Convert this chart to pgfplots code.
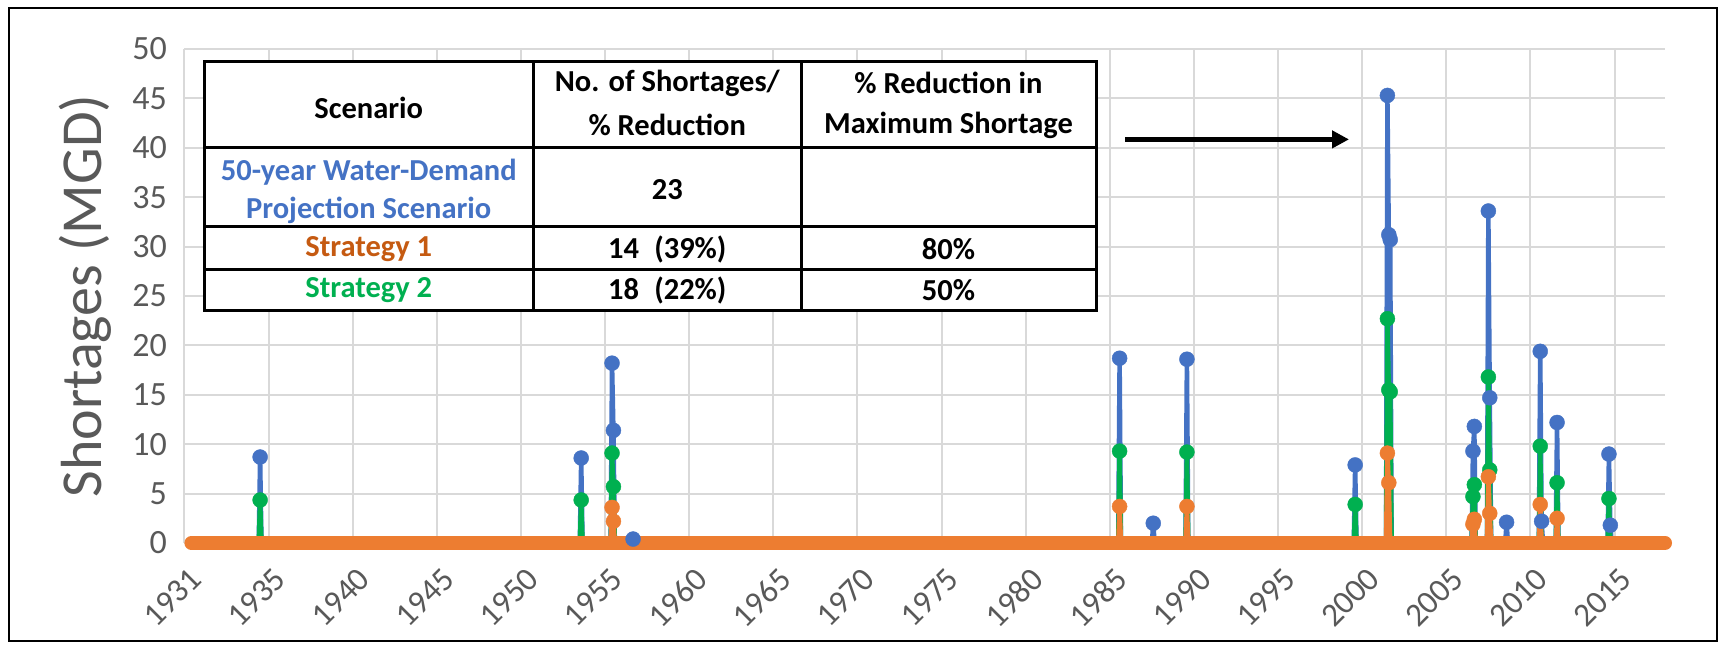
\documentclass[border=0pt]{standalone}
\usepackage{pgfplots}
\usepackage{pgfplotstable}
\pgfplotsset{compat=1.18}
\usetikzlibrary{arrows.meta}
\usepackage{fontspec}
\setmainfont{Carlito}

\definecolor{sblue}{HTML}{4472C4}
\definecolor{sorange}{HTML}{ED7D31}
\definecolor{sgreen}{HTML}{00B050}
\definecolor{torange}{HTML}{C55A11}
\definecolor{gridgray}{HTML}{D9D9D9}
\definecolor{labelgray}{HTML}{595959}

% month index from the start of the record, shortage in MGD
\pgfplotstableread{
x y
5 0
53 0
54 8.7
55 0
282 0
283 8.6
284 0
304 0
305 18.2
306 11.4
307 0
319 0
320 0.4
321 0
666 0
667 18.7
668 0
690 0
691 2.0
692 0
714 0
715 18.6
716 0
834 0
835 7.9
836 0
857 0
858 45.3
859 31.2
860 30.7
861 0
918 0
919 9.3
920 11.8
921 0
929 0
930 33.6
931 14.7
932 0
942 0
943 2.1
944 0
966 0
967 19.4
968 2.2
969 0
978 0
979 12.2
980 0
1015 0
1016 9.0
1017 1.8
1018 0
1056 0
}\baseline

\pgfplotstableread{
x y
5 0
53 0
54 4.35
55 0
282 0
283 4.35
284 0
304 0
305 9.1
306 5.7
307 0
666 0
667 9.3
668 0
714 0
715 9.2
716 0
834 0
835 3.9
836 0
857 0
858 22.7
859 15.5
860 15.3
861 0
918 0
919 4.7
920 5.9
921 0
929 0
930 16.8
931 7.4
932 0
966 0
967 9.8
968 0
978 0
979 6.1
980 0
1015 0
1016 4.5
1017 0
1056 0
}\stratB

\pgfplotstableread{
x y
5 0
304 0
305 3.6
306 2.2
307 0
666 0
667 3.7
668 0
714 0
715 3.7
716 0
857 0
858 9.1
859 6.1
860 0
918 0
919 1.9
920 2.4
921 0
929 0
930 6.7
931 3.0
932 0
966 0
967 3.9
968 0
978 0
979 2.5
980 0
1056 0
}\stratA

\begin{document}
\begin{tikzpicture}
\begin{scope}[x=1bp,y=1bp]
\useasboundingbox (0,0) rectangle (1721,649);
\fill[white] (0,0) rectangle (1721,649);
\end{scope}

\begin{axis}[
  at={(184.4bp,106bp)}, anchor=south west,
  scale only axis, width=1480.6bp, height=494bp,
  xmin=0, xmax=1056, ymin=0, ymax=50,
  xtick={0,60,...,1020},
  xticklabels={1931,1935,1940,1945,1950,1955,1960,1965,1970,1975,1980,1985,1990,1995,2000,2005,2010,2015},
  ytick={0,5,...,50},
  grid=major,
  major grid style={draw=gridgray, line width=2bp},
  axis line style={draw=none},
  major tick length=0pt,
  tick label style={font=\fontsize{34bp}{40bp}\selectfont, text=labelgray},
  /pgf/number format/assume math mode=true,
  xticklabel style={font=\fontsize{33bp}{38bp}\selectfont, yshift=-20bp, xshift=4bp, rotate=45, anchor=north east, inner sep=2bp},
  yticklabel style={xshift=-14bp},
  every axis y label/.style={at={(axis description cs:-0.067,0.5)}, rotate=90, anchor=center},
  ylabel={Shortages (MGD)},
  ylabel style={font=\fontsize{58bp}{66bp}\selectfont, text=labelgray},
  clip=false,
]
% 50-year projection
\addplot[sblue, line width=4.5bp, line join=round] table {\baseline};
\addplot[sblue, only marks, mark=*, mark size=7.5bp, restrict y to domain=0.05:60, unbounded coords=discard] table {\baseline};
% strategy 2
\addplot[sgreen, line width=4.5bp, line join=round] table {\stratB};
\addplot[sgreen, only marks, mark=*, mark size=7.5bp, restrict y to domain=0.05:60, unbounded coords=discard] table {\stratB};
% strategy 1: zero months form the thick band
\addplot[sorange, line width=14bp, line cap=round] coordinates {(5,0) (1056,0)};
\addplot[sorange, line width=4.5bp, line join=round] table {\stratA};
\addplot[sorange, only marks, mark=*, mark size=7.5bp, restrict y to domain=0.05:60, unbounded coords=discard] table {\stratA};
\end{axis}

\begin{scope}[x=1bp,y=1bp]
% table
\fill[white] (204,338.5) rectangle (1096,587.5);
\draw[black, line width=3bp] (204,338.5) rectangle (1096,587.5);
\draw[black, line width=3bp] (533.5,338.5) -- (533.5,587.5);
\draw[black, line width=3bp] (801,338.5) -- (801,587.5);
\draw[black, line width=3bp] (204,501) -- (1096,501);
\draw[black, line width=3bp] (204,422) -- (1096,422);
\draw[black, line width=3bp] (204,379) -- (1096,379);
\begin{scope}[every node/.style={font=\fontsize{30.5bp}{36bp}\selectfont\bfseries, inner sep=0pt, anchor=center}]
\node at (368.75,541) {Scenario};
\node at (667.25,566) {No. of Shortages/};
\node at (667.25,524) {\% Reduction};
\node at (948.5,566) {\% Reduction in};
\node at (948.5,524) {Maximum Shortage};
\node[text=sblue] at (368.75,477) {50-year Water-Demand};
\node[text=sblue] at (368.75,439) {Projection Scenario};
\node at (667.25,459) {23};
\node[text=torange] at (368.75,400) {Strategy 1};
\node at (667.25,400) {14\enspace(39\%)};
\node at (948.5,400) {80\%};
\node[text=sgreen] at (368.75,359) {Strategy 2};
\node at (667.25,359) {18\enspace(22\%)};
\node at (948.5,359) {50\%};
\end{scope}

% arrow pointing at the peak
\draw[black, line width=4.5bp, -{Triangle[length=17bp,width=17bp]}] (1125,509.6) -- (1349,509.6);

% outer frame
\draw[black, line width=2.5bp] (9,8) rectangle (1717,641);
\end{scope}
\end{tikzpicture}
\end{document}
